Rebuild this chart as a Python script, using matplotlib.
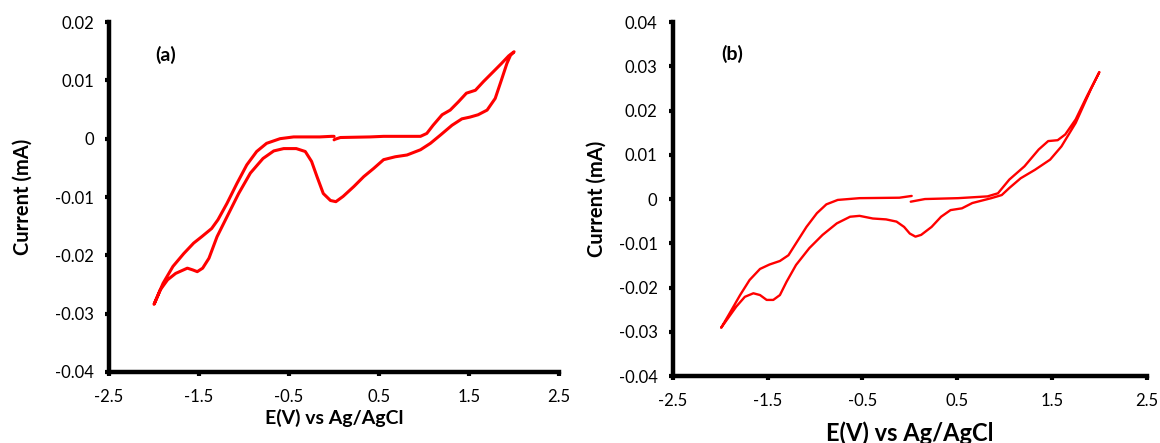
import matplotlib
matplotlib.use("Agg")
import matplotlib.pyplot as plt

plt.rcParams['font.family'] = ['Lato', 'DejaVu Sans']

# panel (a): sweep starts at 0 V, goes to +2 V, down to -2 V, back to 0 V
a_E = [0.0, 0.01, 0.07, 0.40, 0.55, 0.96, 1.03, 1.10, 1.20, 1.29, 1.38, 1.47, 1.57, 1.66,
       1.77, 1.86, 1.94, 2.0,
       1.96, 1.92, 1.86, 1.79, 1.70, 1.60, 1.51, 1.42, 1.31, 1.18, 1.07, 0.96, 0.81,
       0.68, 0.55, 0.44, 0.33, 0.22, 0.10, 0.02, -0.04, -0.12, -0.19, -0.25, -0.32, -0.42,
       -0.49, -0.56, -0.67, -0.79, -0.93, -1.06, -1.19, -1.30, -1.39, -1.46, -1.52,
       -1.57, -1.63, -1.76, -1.85, -1.93, -2.0,
       -1.90, -1.79, -1.67, -1.56, -1.47, -1.36, -1.29, -1.19, -1.08, -0.97, -0.86,
       -0.75, -0.60, -0.45, -0.16, -0.03, 0.0]
a_I = [-0.0002, -0.0001, 0.0002, 0.0003, 0.0004, 0.0004, 0.0009, 0.0023, 0.0041, 0.0049,
       0.0063, 0.0078, 0.0083, 0.0098, 0.0115, 0.0129, 0.0142, 0.0149,
       0.0143, 0.0129, 0.0101, 0.0069, 0.0049, 0.0041, 0.0037, 0.0034, 0.0023, 0.0006,
       -0.0008, -0.0019, -0.0028, -0.0031, -0.0036, -0.0051, -0.0065, -0.0082, -0.0099,
       -0.0108, -0.0106, -0.0094, -0.0065, -0.0039, -0.0022, -0.0017, -0.0017, -0.0017,
       -0.0021, -0.0034, -0.0059, -0.0094, -0.0134, -0.0168, -0.0205, -0.0222, -0.0228,
       -0.0225, -0.0222, -0.0231, -0.0242, -0.0259, -0.0284,
       -0.0248, -0.0219, -0.0197, -0.0179, -0.0168, -0.0154, -0.0139, -0.0111, -0.0077,
       -0.0045, -0.0022, -0.0008, 0.0000, 0.0003, 0.0003, 0.0004, 0.0004]

# panel (b)
b_E = [0.01, 0.16, 0.51, 0.82, 0.93, 1.05, 1.21, 1.36, 1.46, 1.56, 1.64, 1.75, 1.87, 2.0,
       1.91, 1.75, 1.60, 1.48, 1.32, 1.17, 1.05, 0.97, 0.86, 0.66, 0.55, 0.43, 0.33,
       0.23, 0.12, 0.06, 0.0, -0.06, -0.14, -0.25, -0.39, -0.53, -0.63, -0.77, -0.92,
       -1.06, -1.20, -1.30, -1.37, -1.44, -1.51, -1.58, -1.65, -1.74, -1.83, -1.92, -1.99,
       -1.90, -1.79, -1.69, -1.58, -1.48, -1.37, -1.28, -1.20, -1.09, -0.98, -0.88,
       -0.76, -0.53, -0.11, 0.02]
b_I = [-0.0006, 0.0000, 0.0002, 0.0006, 0.0013, 0.0044, 0.0074, 0.0112, 0.0131, 0.0133,
       0.0146, 0.0180, 0.0233, 0.0287,
       0.0248, 0.0172, 0.0119, 0.0089, 0.0066, 0.0047, 0.0025, 0.0009, 0.0002, -0.0009,
       -0.0021, -0.0025, -0.0040, -0.0063, -0.0081, -0.0085, -0.0078, -0.0063, -0.0051,
       -0.0046, -0.0044, -0.0038, -0.0040, -0.0055, -0.0081, -0.0111, -0.0149, -0.0187,
       -0.0217, -0.0228, -0.0228, -0.0217, -0.0213, -0.0221, -0.0243, -0.0270, -0.0291,
       -0.0258, -0.0217, -0.0183, -0.0158, -0.0148, -0.0140, -0.0127, -0.0100, -0.0063,
       -0.0032, -0.0012, -0.0002, 0.0002, 0.0003, 0.0007]

x_ticks = [-2.5, -1.5, -0.5, 0.5, 1.5, 2.5]
a_yticks = [-0.04, -0.03, -0.02, -0.01, 0, 0.01, 0.02]
b_yticks = [-0.04, -0.03, -0.02, -0.01, 0, 0.01, 0.02, 0.03, 0.04]


def ylab(v):
    return "0" if abs(v) < 1e-12 else f"{v:g}"


fig = plt.figure(figsize=(11.6, 4.43), dpi=100)
ax1 = fig.add_axes([0.094, 0.1603, 0.388, 0.790])
ax2 = fig.add_axes([0.580, 0.1512, 0.4086, 0.799])

# (axis, x, y, yticks, tag, tag y, line width, xlabel size, ylabel x, xlabel y)
panels = [
    (ax1, a_E, a_I, a_yticks, "(a)", 0.0144, 2.2, 14, -0.193, -0.131),
    (ax2, b_E, b_I, b_yticks, "(b)", 0.0328, 1.7, 17, -0.160, -0.161),
]
for ax, E, I, yt, tag, tag_y, lw, xfs, ylx, xly in panels:
    ax.plot(E, I, color="#ff0000", lw=lw, solid_joinstyle="round", solid_capstyle="round")
    ax.set_xlim(-2.5, 2.5)
    ax.set_ylim(yt[0], yt[-1])
    ax.set_xticks(x_ticks)
    ax.set_xticklabels([f"{v:g}" for v in x_ticks])
    ax.set_yticks(yt)
    ax.set_yticklabels([ylab(v) for v in yt])
    for s in ["top", "right"]:
        ax.spines[s].set_visible(False)
    for s in ["left", "bottom"]:
        ax.spines[s].set_linewidth(3.2)
    ax.tick_params(direction="out", length=3, width=3, labelsize=12)
    ax.tick_params(axis="y", pad=8)
    ax.tick_params(axis="x", pad=9)
    ax.set_ylabel("Current (mA)", fontsize=14.5, fontweight="bold", va="center")
    ax.yaxis.set_label_coords(ylx, 0.5)
    ax.set_xlabel("E(V) vs Ag/AgCl", fontsize=xfs, fontweight="bold", va="center")
    ax.xaxis.set_label_coords(0.5, xly)
    ax.text(-1.87, tag_y, tag, fontsize=14, fontweight="bold", ha="center", va="center")

fig.savefig("out.png", dpi=100)
